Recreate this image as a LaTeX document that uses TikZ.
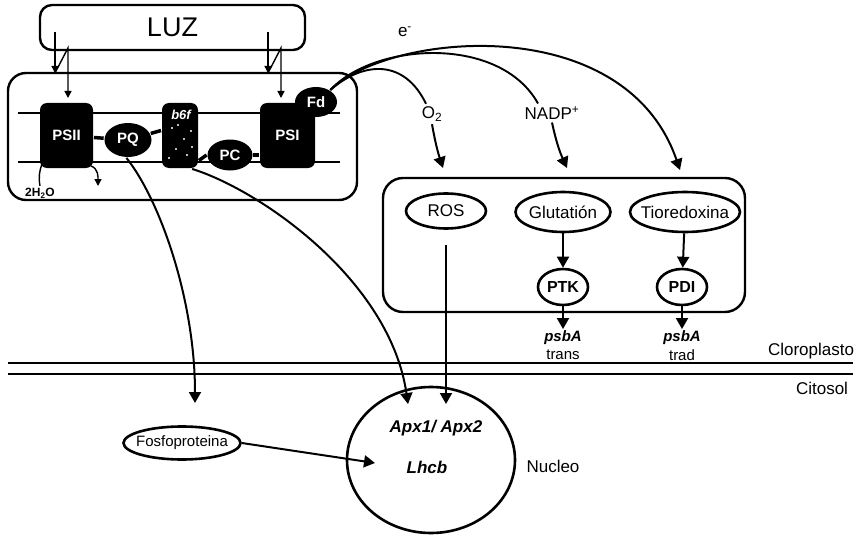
\documentclass[tikz,border=0pt]{standalone}
\usepackage{fontspec}
\setmainfont{Liberation Sans}
\usetikzlibrary{arrows.meta,shapes.geometric}

\tikzset{
    caja/.style={draw, rounded corners=12pt, line width=2.4pt, inner sep=0pt},
    complejo/.style={rectangle, fill=black, rounded corners=7pt, text=white,
        font=\fontsize{15}{18}\selectfont\bfseries},
    portador/.style={ellipse, fill=black, text=white, inner sep=0pt,
        font=\fontsize{15}{18}\selectfont\bfseries},
    molecula/.style={ellipse, draw, line width=2.6pt, inner sep=0pt},
    membrana/.style={line width=2.8pt},
    enlace/.style={line width=3.5pt},
    flecha/.style={-{Triangle[length=11pt,width=12pt]}, line width=2pt},
    flechita/.style={-{Triangle[length=7pt,width=7pt]}, line width=1.4pt},
    gen/.style={font=\fontsize{15}{18}\selectfont\bfseries\itshape, inner sep=1pt},
}

\begin{document}
\begin{tikzpicture}[x=1pt, y=-1pt, line width=1.9pt,
        font=\fontsize{17}{20}\selectfont]
    \useasboundingbox (0,0) rectangle (855,535);

    % luz y tilacoide
    \node[caja, minimum width=265pt, minimum height=45pt,
        font=\fontsize{27}{30}\selectfont] (luz) at (172.5,27.5) {LUZ};
    \node[caja, rounded corners=18pt, minimum width=349pt,
        minimum height=127pt] (tilacoide) at (182.5,136.5) {};

    \draw[membrana] (18,113) -- (340,113);
    \draw[membrana] (18,162) -- (340,162);

    \foreach \x in {55,268} {
        \draw[flechita] (\x,32) -- (\x,73);
        \draw[flechita] (\x,73) -- (\x+13,48) -- (\x+13,98);
    }

    % cadena de transporte
    \node[complejo, minimum width=53pt, minimum height=65pt] (psii) at (66.5,135.5) {PSII};
    \node[complejo, minimum width=36pt, minimum height=65pt] (bsf) at (180,135.5) {};
    \node[complejo, minimum width=55pt, minimum height=65pt] (psi) at (287.5,135.5) {PSI};
    \node[portador, minimum width=47pt, minimum height=34pt] (pq) at (128,140) {PQ};
    \node[portador, minimum width=45pt, minimum height=31pt] (pc) at (230,155) {PC};
    \node[portador, minimum width=42pt, minimum height=30pt] (fd) at (316,102) {Fd};

    \node[text=white, inner sep=0pt, font=\fontsize{13}{15}\selectfont\bfseries\itshape]
        (bsfl) at (181,115) {b6f};
    \foreach \p in {(172,128),(184,139),(176,149),(191,131),(169,158),(187,155),(178,125),(192,147)}
        \fill[white] \p circle (1.1pt);

    \draw[enlace] (psii) -- (pq);
    \draw[enlace] (pq) -- ([yshift=5pt]bsf.west);
    \draw[enlace] ([yshift=-25pt]bsf.east) -- (pc.west);
    \draw[enlace] (pc.east) -- (psi.west |- pc.east);

    \node[inner sep=1pt, font=\fontsize{12}{14}\selectfont\bfseries] (agua) at (40,193) {2H\textsubscript{2}O};
    \coordinate (salida) at (98,186);
    \draw[line width=1.4pt] ([xshift=3pt,yshift=5pt]psii.south west) to[bend right=15] (agua.north);
    \draw[flechita] ([xshift=-3pt,yshift=3pt]psii.south east) to[out=-20,in=90] (salida);

    % electrones desde Fd
    \node (elec) at (405,32) {e\textsuperscript{-}};
    \node[inner sep=2pt] (o2) at (432,114) {O\textsubscript{2}};
    \node[inner sep=2pt] (nadp) at (552,113) {NADP\textsuperscript{+}};
    \coordinate (tioa) at (680,170);

    \draw (fd.40) .. controls (365,60) and (405,60) .. ([xshift=-6pt]o2.north);
    \draw (fd.40) .. controls (375,42) and (500,35) .. ([xshift=-14pt]nadp.north);
    \draw[flecha] (fd.40) .. controls (390,32) and (625,10) .. (tioa);

    % estroma
    \node[caja, rounded corners=20pt, minimum width=362pt,
        minimum height=134pt] (estroma) at (564,245) {};
    \node[molecula, minimum width=80pt, minimum height=35pt, label=center:ROS] (ros) at (446,211) {};
    \node[molecula, minimum width=95pt, minimum height=40pt, label=center:Glutatión] (glut) at (563,212) {};
    \node[molecula, minimum width=110pt, minimum height=40pt, label=center:Tioredoxina] (tiored) at (685,212) {};
    \node[molecula, minimum width=50pt, minimum height=36pt,
        font=\fontsize{16}{19}\selectfont\bfseries] (ptk) at (563,287) {PTK};
    \node[molecula, minimum width=50pt, minimum height=36pt,
        font=\fontsize{16}{19}\selectfont\bfseries] (pdi) at (682,287) {PDI};

    \coordinate (o2a) at (443,168);
    \coordinate (nadpa) at (567,168);
    \draw[flecha] (o2.south) to[bend right=4] (o2a);
    \draw[flecha] (nadp.south) to[bend right=6] (nadpa);

    \node[gen] (psbat) at (563,338) {psbA};
    \node[inner sep=1pt, font=\fontsize{15}{18}\selectfont] (trans) at (563,355) {trans};
    \node[gen] (psbad) at (682,338) {psbA};
    \node[inner sep=1pt, font=\fontsize{15}{18}\selectfont] (trad) at (682,355) {trad};

    \draw[flecha] (glut) -- (ptk);
    \draw[flecha] (ptk) -- (psbat);
    \draw[flecha] (tiored) -- (pdi);
    \draw[flecha] (pdi) -- (psbad);

    % envoltura
    \draw[membrana] (8,363) -- (853,363);
    \draw[membrana] (8,374) -- (853,374);
    \node (cloro) at (811,351) {Cloroplasto};
    \node (cito) at (822,388) {Citosol};

    % nucleo
    \node[molecula, minimum width=168pt, minimum height=146pt] (nucleo) at (431,460) {};
    \node[gen, font=\fontsize{17}{20}\selectfont\bfseries\itshape] (apx) at (436,428) {Apx1/ Apx2};
    \node[gen, font=\fontsize{17}{20}\selectfont\bfseries\itshape] (lhcb) at (427,467) {Lhcb};
    \node (nuc) at (553,466) {Nucleo};
    \node[molecula, minimum width=117pt, minimum height=33pt,
        label={[font=\fontsize{15}{18}\selectfont]center:Fosfoproteina}] (fosfo) at (182,443) {};

    \coordinate (fosa) at (195,403);
    \coordinate (apxb) at (408,404);
    \coordinate (apxr) at (446,404);
    \coordinate (lhcba) at (375,463);

    \draw[flecha] (pq.-95) .. controls (160,200) and (195,300) .. (fosa);
    \draw[flecha] (bsf.-70) .. controls (260,190) and (390,280) .. (apxb);
    \draw[flecha] ([yshift=-15pt]ros.south) -- (apxr);
    \draw[flecha] (fosfo.east) -- (lhcba);
\end{tikzpicture}
\end{document}
